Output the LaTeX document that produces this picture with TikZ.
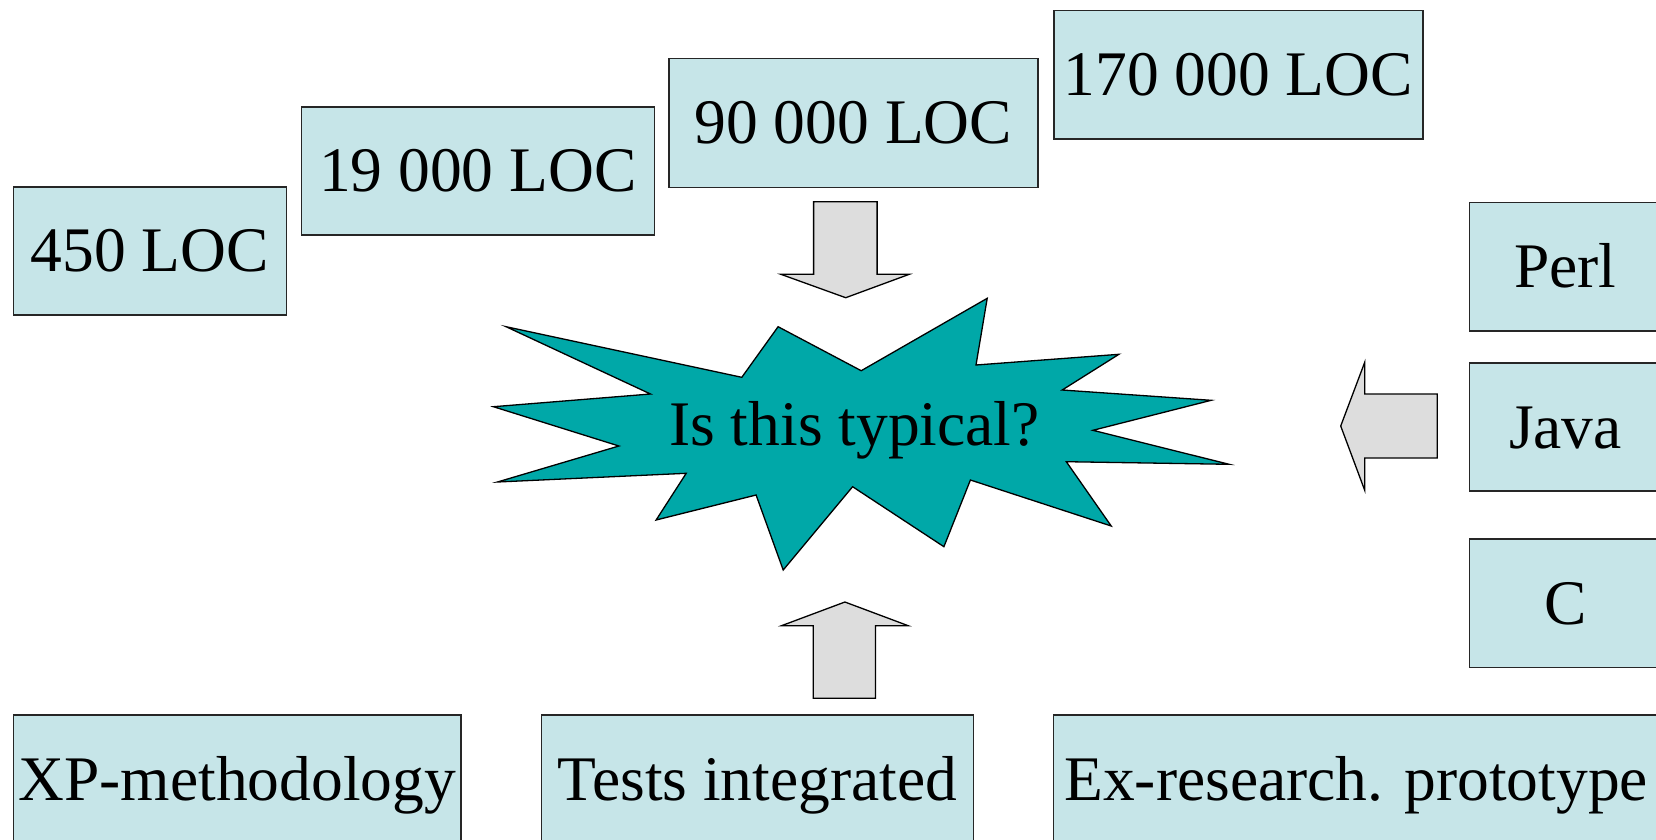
\documentclass[tikz,border=0pt]{standalone}
\usepackage{fontspec}
\setmainfont{Liberation Serif}
\definecolor{boxfill}{RGB}{198,229,232}
\definecolor{burstfill}{RGB}{0,168,168}
\definecolor{arrowgray}{RGB}{221,221,221}
\begin{document}
\begin{tikzpicture}[x=1pt,y=-1pt,
  lbl/.style={font=\fontsize{63.5}{70}\selectfont, text height=57pt, text depth=15pt, inner sep=0pt},
  infobox/.style={lbl, draw=black!85, line width=1.5pt, fill=boxfill, anchor=north west},
  blockarrow/.style={draw=black, line width=1.3pt, fill=arrowgray, line join=miter},
  burst/.style={draw=black, line width=1.3pt, fill=burstfill, line join=miter}]
\useasboundingbox (0,0) rectangle (1656,839);
\clip (0,0) rectangle (1656,839);
% LOC boxes
\node[infobox, minimum width=273pt, minimum height=128pt] (b450) at (12.5,186) {450 LOC};
\node[infobox, minimum width=353pt, minimum height=128pt] (b19) at (300.5,106) {19 000 LOC};
\node[infobox, minimum width=369pt, minimum height=129pt] (b90) at (668,57.7) {90 000 LOC};
\node[infobox, minimum width=369pt, minimum height=128.6pt] (b170) at (1053,9.7) {170 000 LOC};
% language boxes
\node[infobox, minimum width=192pt, minimum height=128.6pt] (perl) at (1468.7,201.7) {Perl};
\node[infobox, minimum width=192pt, minimum height=128pt] (java) at (1468.7,362.3) {Java};
\node[infobox, minimum width=192pt, minimum height=128.4pt] (clang) at (1468.7,538.3) {C};
% bottom boxes
\node[infobox, minimum width=447.7pt, minimum height=128pt] (xp) at (12.7,714.3) {XP-methodology};
\node[infobox, minimum width=431.9pt, minimum height=128pt] (tests) at (540.7,714.3) {Tests integrated};
\node[infobox, minimum width=605pt, minimum height=128pt] (exr) at (1052.9,714.3) {Ex-research. prototype};
% starburst
\draw[burst] (506.1,326.7) -- (741.8,377.3) -- (778.1,326.7) -- (861.2,370.7)
  -- (987.2,298.3) -- (976.0,365) -- (1118.9,354.3) -- (1062.2,390)
  -- (1211.2,400.3) -- (1092.9,430.3) -- (1229.1,464.3) -- (1066.3,461.7)
  -- (1111.2,526) -- (970.4,480) -- (943.9,546.7) -- (852.6,486.7)
  -- (783.2,570) -- (756.1,495) -- (656.1,520) -- (686.2,473.3)
  -- (497.4,482) -- (618.9,446) -- (493.4,406.7) -- (650.5,394) -- cycle;
\node[lbl] (q) at (854.4,424) {Is this typical?};
% block arrows
\draw[blockarrow] (813.6,201.7) -- (877.1,201.7) -- (877.1,274.3) -- (909.2,274.3)
  -- (845.7,297.7) -- (780.9,274.3) -- (813.6,274.3) -- cycle;
\draw[blockarrow] (813.2,698.3) -- (875.5,698.3) -- (875.5,625.7) -- (908.2,625.7)
  -- (844.9,602) -- (781.5,625.7) -- (813.2,625.7) -- cycle;
\draw[blockarrow] (1437.3,394) -- (1437.3,458) -- (1364.7,458) -- (1364.7,490.3)
  -- (1340.7,426) -- (1364.7,362.3) -- (1364.7,394) -- cycle;
\end{tikzpicture}
\end{document}
